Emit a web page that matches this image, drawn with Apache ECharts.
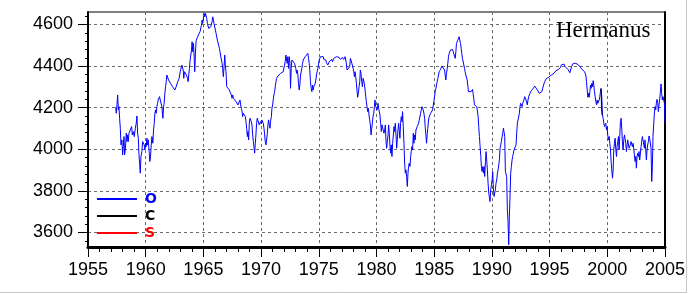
<!DOCTYPE html>
<html><head><meta charset="utf-8">
<script src="https://cdn.jsdelivr.net/npm/echarts@6/dist/echarts.min.js"></script>
<style>html,body{margin:0;padding:0;background:#fff}#c{width:688px;height:294px}</style>
</head><body><div id="c"></div>
<script>
// Hermanus monthly values, [year, value]
const obs1957 = [[1957.40,4202],[1957.45,4173],[1957.51,4213],[1957.57,4261],[1957.63,4189],[1957.68,4205],[1957.74,4149],[1957.80,4101],[1957.86,4021],[1957.94,4045],[1958.00,3973],[1958.06,4013],[1958.12,4061],[1958.17,3973],[1958.23,3997],[1958.32,4077],[1958.38,4037],[1958.43,4069],[1958.49,4037],[1958.55,4077],[1958.63,4085],[1958.72,4077],[1958.78,4109],[1958.84,4069],[1958.92,4085],[1959.01,4061],[1959.10,4101],[1959.18,4125],[1959.24,4160],[1959.30,4077],[1959.36,4053],[1959.41,3981],[1959.47,3933],[1959.53,3885],[1959.59,3965],[1959.67,3989],[1959.73,4037],[1959.82,4045],[1959.87,4021],[1959.93,3997],[1959.99,4029],[1960.05,4013],[1960.10,4053],[1960.16,4021],[1960.22,4045],[1960.31,3981],[1960.36,3941],[1960.42,3965],[1960.48,4021],[1960.54,4061],[1960.62,4029],[1960.68,4093],[1960.74,4125],[1960.80,4173],[1960.85,4189],[1960.91,4173],[1960.97,4205],[1961.03,4221],[1961.08,4237],[1961.14,4245],[1961.20,4253],[1961.26,4237],[1961.34,4245],[1961.40,4205],[1961.49,4149],[1961.55,4205],[1961.60,4221],[1961.66,4269],[1961.72,4301],[1961.78,4325],[1961.83,4357],[1961.89,4349],[1961.98,4333],[1962.04,4341],[1962.09,4325],[1962.15,4317],[1962.24,4325],[1962.32,4301],[1962.38,4293],[1962.44,4309],[1962.53,4285],[1962.58,4293],[1962.64,4301],[1962.70,4309],[1962.78,4325],[1962.84,4333],[1962.90,4341],[1962.99,4373],[1963.04,4381],[1963.13,4405],[1963.19,4410],[1963.25,4381],[1963.30,4341]];
const obs1963 = [[1963.36,4373],[1963.45,4365],[1963.53,4357],[1963.62,4341],[1963.68,4325],[1963.73,4357],[1963.79,4389],[1963.85,4429],[1963.91,4437],[1963.97,4477],[1964.02,4517],[1964.08,4469],[1964.14,4509],[1964.20,4445],[1964.25,4373],[1964.31,4461],[1964.37,4522],[1964.43,4528],[1964.48,4538],[1964.54,4544],[1964.60,4554],[1964.66,4557],[1964.71,4565],[1964.77,4570],[1964.83,4597],[1964.89,4621],[1964.94,4605],[1965.00,4629],[1965.06,4653],[1965.12,4637],[1965.18,4653],[1965.23,4658],[1965.29,4629],[1965.35,4605],[1965.41,4597],[1965.46,4581],[1965.52,4576],[1965.58,4581],[1965.64,4589],[1965.69,4597],[1965.75,4613],[1965.81,4637],[1965.87,4621],[1965.92,4605],[1965.98,4597],[1966.04,4573],[1966.10,4557],[1966.16,4549],[1966.21,4525],[1966.27,4533],[1966.33,4517],[1966.39,4485],[1966.44,4469],[1966.50,4461],[1966.56,4429],[1966.62,4413],[1966.67,4389],[1966.73,4349],[1966.79,4397],[1966.85,4453],[1966.90,4405],[1966.96,4373],[1967.02,4301],[1967.08,4309],[1967.14,4293],[1967.19,4301],[1967.25,4285],[1967.31,4277],[1967.37,4285],[1967.42,4261],[1967.48,4245],[1967.54,4261],[1967.60,4245],[1967.65,4253],[1967.71,4237],[1967.77,4245],[1967.83,4229],[1967.88,4221],[1967.94,4229],[1968.00,4213],[1968.06,4221],[1968.12,4205],[1968.17,4237],[1968.23,4213],[1968.29,4197],[1968.35,4181],[1968.40,4157],[1968.46,4173],[1968.52,4165],[1968.58,4170],[1968.63,4157],[1968.69,4133],[1968.75,4101],[1968.81,4061],[1968.86,4085],[1968.92,4045],[1968.98,4125],[1969.04,4149],[1969.10,4157],[1969.15,4133],[1969.21,4117],[1969.27,4069],[1969.33,4037],[1969.38,4013],[1969.44,3981],[1969.50,4029],[1969.56,4077],[1969.61,4125],[1969.67,4149],[1969.73,4157],[1969.79,4141],[1969.84,4117],[1969.90,4125],[1969.96,4133],[1970.02,4122],[1970.07,4141],[1970.13,4149],[1970.19,4125],[1970.25,4101],[1970.31,4069],[1970.36,4037],[1970.42,4021],[1970.48,4045],[1970.54,4077],[1970.59,4117],[1970.65,4141],[1970.71,4117],[1970.77,4101],[1970.82,4133],[1970.89,4157],[1970.94,4197],[1971.00,4213],[1971.05,4237],[1971.11,4261],[1971.17,4277],[1971.23,4301],[1971.29,4325],[1971.34,4341],[1971.40,4349],[1971.46,4352],[1971.52,4357],[1971.57,4349],[1971.63,4357],[1971.69,4365]];
const obs1971 = [[1971.75,4373],[1971.83,4365],[1971.92,4373],[1971.98,4365],[1972.03,4405],[1972.09,4421],[1972.15,4453],[1972.21,4461],[1972.26,4413],[1972.32,4445],[1972.38,4389],[1972.44,4445],[1972.50,4413],[1972.55,4293],[1972.61,4389],[1972.67,4429],[1972.73,4437],[1972.78,4429],[1972.84,4421],[1972.90,4413],[1972.96,4405],[1973.01,4389],[1973.07,4365],[1973.13,4381],[1973.19,4357],[1973.24,4317],[1973.30,4285],[1973.36,4309],[1973.42,4357],[1973.48,4365],[1973.53,4389],[1973.59,4413],[1973.65,4429],[1973.71,4432],[1973.76,4437],[1973.82,4445],[1973.88,4448],[1973.94,4453],[1973.99,4453],[1974.05,4461],[1974.11,4437],[1974.17,4413],[1974.22,4381],[1974.28,4325],[1974.34,4293],[1974.40,4277],[1974.46,4309],[1974.51,4285],[1974.57,4301],[1974.63,4293],[1974.69,4317],[1974.74,4333],[1974.80,4357],[1974.86,4373],[1974.92,4389],[1974.97,4405],[1975.03,4429],[1975.09,4437],[1975.15,4445],[1975.20,4448],[1975.26,4440],[1975.32,4451],[1975.38,4445],[1975.43,4432],[1975.49,4429],[1975.55,4426],[1975.61,4429],[1975.67,4416],[1975.72,4410],[1975.78,4405],[1975.84,4413],[1975.90,4421],[1975.95,4426],[1976.01,4429],[1976.07,4429],[1976.13,4432],[1976.18,4421],[1976.24,4429],[1976.30,4437],[1976.36,4434],[1976.42,4440],[1976.47,4440],[1976.53,4445],[1976.59,4445],[1976.65,4445],[1976.70,4445],[1976.76,4442],[1976.82,4437],[1976.88,4432],[1976.93,4429],[1976.99,4437],[1977.05,4442],[1977.11,4437],[1977.16,4432],[1977.22,4440],[1977.28,4445],[1977.34,4429],[1977.39,4410],[1977.45,4381],[1977.51,4373],[1977.57,4389],[1977.62,4381],[1977.68,4397],[1977.74,4437],[1977.80,4445],[1977.86,4429],[1977.91,4405],[1977.97,4389],[1978.03,4373],[1978.09,4349],[1978.14,4373],[1978.20,4349],[1978.26,4317],[1978.32,4277],[1978.37,4250],[1978.43,4269],[1978.49,4301],[1978.55,4325],[1978.60,4381],[1978.66,4365],[1978.72,4325],[1978.78,4301],[1978.84,4341],[1978.89,4349],[1978.95,4317],[1979.01,4285],[1979.07,4253],[1979.12,4229],[1979.18,4205],[1979.24,4181],[1979.30,4197],[1979.35,4165],[1979.41,4141],[1979.47,4117],[1979.53,4069],[1979.59,4101],[1979.64,4125],[1979.70,4157],[1979.76,4173],[1979.82,4205],[1979.87,4237],[1979.93,4205],[1979.99,4213],[1980.05,4189],[1980.10,4197]];
const obs1980 = [[1980.13,4221],[1980.19,4197],[1980.25,4189],[1980.30,4165],[1980.36,4125],[1980.42,4085],[1980.48,4117],[1980.54,4109],[1980.59,4117],[1980.65,4077],[1980.71,4093],[1980.77,4117],[1980.82,4045],[1980.88,4005],[1980.94,4037],[1981.00,4069],[1981.05,4117],[1981.11,4077],[1981.17,4013],[1981.23,3981],[1981.28,4021],[1981.34,3965],[1981.40,4029],[1981.46,4069],[1981.52,4109],[1981.57,4085],[1981.63,4125],[1981.69,4069],[1981.75,4005],[1981.80,4045],[1981.86,4093],[1981.92,4125],[1981.98,4085],[1982.03,4053],[1982.09,4125],[1982.15,4157],[1982.21,4133],[1982.26,4181],[1982.32,4109],[1982.38,4029],[1982.44,3933],[1982.50,3885],[1982.55,3901],[1982.61,3869],[1982.67,3821],[1982.73,3885],[1982.78,3917],[1982.84,3933],[1982.90,3917],[1982.96,3965],[1983.01,3989],[1983.07,4013],[1983.13,3997],[1983.19,4077],[1983.24,4029],[1983.30,4069],[1983.36,4045],[1983.42,4093],[1983.48,4101],[1983.53,4109],[1983.59,4117],[1983.65,4125],[1983.71,4141],[1983.76,4149],[1983.82,4173],[1983.88,4189],[1983.94,4205],[1983.99,4213],[1984.05,4189],[1984.11,4173],[1984.17,4149],[1984.22,4109],[1984.28,4069],[1984.34,4029],[1984.40,4077],[1984.45,4101],[1984.51,4141],[1984.57,4157],[1984.63,4165],[1984.69,4173],[1984.74,4170],[1984.80,4181],[1984.86,4189],[1984.92,4197],[1984.97,4229],[1985.03,4253],[1985.09,4277],[1985.15,4293],[1985.20,4309],[1985.26,4325],[1985.32,4341],[1985.38,4357],[1985.43,4373],[1985.49,4378],[1985.55,4384],[1985.61,4389],[1985.67,4400],[1985.72,4405],[1985.78,4397],[1985.84,4397],[1985.90,4381],[1985.95,4357],[1986.01,4333],[1986.07,4365],[1986.13,4389],[1986.18,4413],[1986.24,4445],[1986.30,4461],[1986.36,4469],[1986.41,4477],[1986.47,4480],[1986.53,4477],[1986.59,4480],[1986.65,4469],[1986.70,4477],[1986.76,4461],[1986.82,4437],[1986.88,4469],[1986.93,4509],[1986.99,4517],[1987.05,4525],[1987.11,4533],[1987.16,4541],[1987.22,4525],[1987.28,4509],[1987.34,4485],[1987.39,4461],[1987.45,4437],[1987.51,4429],[1987.57,4405],[1987.63,4389],[1987.68,4373],[1987.74,4357],[1987.80,4349],[1987.86,4333],[1987.91,4325],[1987.97,4277],[1988.03,4285],[1988.09,4277],[1988.14,4285],[1988.20,4277],[1988.26,4285],[1988.32,4288],[1988.37,4269],[1988.43,4245],[1988.49,4213]];
const obs1988 = [[1988.52,4213],[1988.60,4213],[1988.69,4205],[1988.75,4197],[1988.81,4157],[1988.86,4109],[1988.92,4061],[1988.98,4013],[1989.04,3965],[1989.09,3917],[1989.15,3893],[1989.21,3917],[1989.27,3885],[1989.32,3917],[1989.38,3869],[1989.44,3941],[1989.50,3989],[1989.55,3949],[1989.61,3901],[1989.67,3837],[1989.73,3789],[1989.79,3797],[1989.84,3749],[1989.90,3805],[1989.96,3829],[1990.02,3853],[1990.07,3893],[1990.13,3813],[1990.19,3773],[1990.25,3765],[1990.30,3805],[1990.36,3837],[1990.42,3853],[1990.48,3885],[1990.54,3901],[1990.59,3893],[1990.65,3949],[1990.71,4005],[1990.77,4021],[1990.82,4037],[1990.88,4029],[1990.94,4077],[1991.00,4101],[1991.05,4085],[1991.11,4061],[1991.17,3893],[1991.23,3901],[1991.28,3869],[1991.34,3709],[1991.40,3653],[1991.46,3541],[1991.51,3669],[1991.57,3773],[1991.63,3885],[1991.69,3917],[1991.75,3949],[1991.80,3965],[1991.86,3981],[1991.92,3997],[1991.98,4005],[1992.03,3989],[1992.09,4021],[1992.15,4077],[1992.21,4125],[1992.26,4125],[1992.32,4133],[1992.38,4173],[1992.44,4205],[1992.49,4221],[1992.55,4213],[1992.61,4205],[1992.67,4221],[1992.73,4221],[1992.78,4237],[1992.84,4253],[1992.90,4245],[1992.96,4237],[1993.01,4229],[1993.07,4213],[1993.13,4237],[1993.19,4253],[1993.24,4261],[1993.30,4269],[1993.36,4277],[1993.42,4282],[1993.47,4285],[1993.53,4288],[1993.59,4293],[1993.65,4298],[1993.71,4304],[1993.76,4309],[1993.82,4304],[1993.88,4298],[1993.94,4285],[1993.99,4277],[1994.05,4277],[1994.11,4269],[1994.17,4261],[1994.22,4266],[1994.28,4272],[1994.34,4277],[1994.40,4293],[1994.45,4301],[1994.51,4314],[1994.57,4325],[1994.63,4330],[1994.69,4333],[1994.74,4341],[1994.80,4333],[1994.86,4336],[1994.92,4346],[1994.97,4352],[1995.03,4341],[1995.09,4349],[1995.15,4357],[1995.20,4362],[1995.26,4365],[1995.32,4357],[1995.38,4365],[1995.43,4362],[1995.49,4368],[1995.55,4378],[1995.61,4373],[1995.67,4381],[1995.72,4378],[1995.78,4384],[1995.84,4389],[1995.90,4384],[1995.95,4394],[1996.01,4405],[1996.07,4410],[1996.13,4410],[1996.18,4413],[1996.24,4410],[1996.30,4405],[1996.36,4397],[1996.41,4394],[1996.47,4397],[1996.53,4389],[1996.59,4384],[1996.64,4381],[1996.70,4378],[1996.76,4368],[1996.82,4362],[1996.88,4365]];
const obs1997 = [[1996.90,4397],[1996.99,4405],[1997.05,4413],[1997.11,4416],[1997.16,4413],[1997.22,4418],[1997.28,4413],[1997.34,4416],[1997.39,4410],[1997.45,4413],[1997.51,4405],[1997.57,4410],[1997.62,4400],[1997.68,4394],[1997.74,4389],[1997.80,4384],[1997.85,4381],[1997.91,4384],[1997.97,4378],[1998.03,4373],[1998.09,4373],[1998.14,4357],[1998.20,4325],[1998.26,4285],[1998.32,4250],[1998.37,4269],[1998.43,4250],[1998.49,4277],[1998.55,4309],[1998.60,4293],[1998.66,4317],[1998.72,4301],[1998.78,4330],[1998.83,4309],[1998.89,4277],[1998.95,4253],[1999.01,4229],[1999.07,4213],[1999.12,4237],[1999.18,4221],[1999.24,4216],[1999.30,4237],[1999.35,4253],[1999.41,4277],[1999.47,4293],[1999.53,4245],[1999.58,4165],[1999.64,4149],[1999.70,4125],[1999.76,4109],[1999.81,4117],[1999.87,4125],[1999.93,4093],[1999.99,4109],[2000.04,4069],[2000.10,4045],[2000.16,4061],[2000.22,4029],[2000.28,3997],[2000.33,3941],[2000.39,3933],[2000.45,3861],[2000.51,3901],[2000.56,3997],[2000.62,4029],[2000.68,4053],[2000.74,3997],[2000.80,3965],[2000.85,4013],[2000.91,4037],[2000.97,4061],[2001.02,3997],[2001.08,4061],[2001.14,4133],[2001.20,4149],[2001.26,4093],[2001.31,4037],[2001.37,3997],[2001.43,4045],[2001.49,4069],[2001.54,4053],[2001.60,4029],[2001.66,3989],[2001.72,4021],[2001.77,4045],[2001.83,4053],[2001.89,4005],[2001.95,3997],[2002.00,4021],[2002.06,4037],[2002.12,4045],[2002.18,4013],[2002.24,4029],[2002.29,4005],[2002.35,3973],[2002.41,3941],[2002.47,3965],[2002.52,3909],[2002.58,3965],[2002.64,3981],[2002.70,3965],[2002.75,3989],[2002.81,3949],[2002.87,3981],[2002.93,4013],[2002.98,4037],[2003.04,4061],[2003.10,4064],[2003.16,4053],[2003.22,4005],[2003.27,4045],[2003.33,3997],[2003.39,3949],[2003.45,3997],[2003.50,4021],[2003.56,4037],[2003.62,4064],[2003.67,4053],[2003.73,4045],[2003.79,4005],[2003.85,3845],[2003.91,3917],[2003.96,4061],[2004.02,4117],[2004.08,4173],[2004.14,4205],[2004.20,4189],[2004.25,4221],[2004.31,4240],[2004.37,4224],[2004.43,4181],[2004.48,4213],[2004.54,4237],[2004.60,4277],[2004.66,4314],[2004.71,4269],[2004.77,4237],[2004.83,4253],[2004.89,4253],[2004.95,4221],[2005.00,4125]];
const calcC = [[1999.41,4290],[1999.47,4280],[1999.50,4200],[1999.55,4165]];
const calcS = [];
const yMajor = [3600,3800,4000,4200,4400,4600];
const yMinor = [3560,3640,3680,3720,3760,3840,3880,3920,3960,4040,4080,4120,4160,4240,4280,4320,4360,4440,4480,4520,4560,4640];

const obsAll = [].concat(obs1957, obs1963, obs1971, obs1980, obs1988, obs1997);
const FONT = 'Liberation Sans';
const plain = v => String(Math.round(v));
const GRIDLINE = {show:true, lineStyle:{color:'#6a6a6a', width:1, type:[3,3]}};
const chart = echarts.init(document.getElementById('c'), null, {renderer:'canvas'});
chart.setOption({
  animation:false,
  backgroundColor:'#ffffff',
  textStyle:{fontFamily:FONT, fontSize:18, color:'#000'},
  title:{text:'Hermanus', left:556, top:19, padding:0,
    textStyle:{fontFamily:'Liberation Serif', fontSize:23, fontWeight:'normal', color:'#000'}},
  legend:{orient:'vertical', left:97, top:192, padding:0, itemGap:3, itemWidth:40, itemHeight:2, icon:'rect', selectedMode:false,
    textStyle:{fontFamily:'DejaVu Sans', fontWeight:'bold', fontSize:14, lineHeight:14, padding:[0,0,0,3]},
    data:[{name:'O', textStyle:{color:'#0000ff', fontSize:14, fontWeight:'bold', fontFamily:'DejaVu Sans'}},
          {name:'C', textStyle:{color:'#000000', fontSize:14, fontWeight:'bold', fontFamily:'DejaVu Sans'}},
          {name:'S', textStyle:{color:'#ff0000', fontSize:14, fontWeight:'bold', fontFamily:'DejaVu Sans'}}]},
  grid:{left:88, right:21, top:12, bottom:47, show:true, borderColor:'#000', borderWidth:1, containLabel:false},
  xAxis:{type:'value', min:1955, max:2005, interval:5,
    axisLine:{show:true, onZero:false, lineStyle:{color:'#000', width:3}},
    axisTick:{show:true, length:10, lineStyle:{color:'#000', width:1}},
    minorTick:{show:true, splitNumber:5, length:5, lineStyle:{color:'#000', width:1}},
    axisLabel:{margin:14, fontSize:18, fontFamily:FONT, color:'#000', formatter:plain, hideOverlap:false},
    splitLine:GRIDLINE},
  yAxis:[
    {type:'value', min:3530, max:4660, position:'left',
      axisLine:{show:true, onZero:false, lineStyle:{color:'#000', width:2}},
      axisTick:{show:true, length:10, customValues:yMajor, lineStyle:{color:'#000', width:1}},
      axisLabel:{customValues:yMajor, margin:15, fontSize:18, fontFamily:FONT, color:'#000', formatter:plain, hideOverlap:false},
      splitLine:GRIDLINE},
    {type:'value', min:3530, max:4660, position:'left',
      axisLine:{show:false}, axisTick:{show:true, length:3, customValues:yMinor, lineStyle:{color:'#000', width:1}},
      axisLabel:{show:false}, splitLine:{show:false}},
    {type:'value', min:3530, max:4660, position:'right',
      axisLine:{show:true, onZero:false, lineStyle:{color:'#000', width:2}}, axisTick:{show:false},
      axisLabel:{show:false}, splitLine:{show:false}}
  ],
  graphic:[
    {type:'line', shape:{x1:686.5, y1:0, x2:686.5, y2:293}, style:{stroke:'#c8c8c8', lineWidth:1}},
    {type:'line', shape:{x1:0, y1:292.5, x2:687, y2:292.5}, style:{stroke:'#c8c8c8', lineWidth:1}}
  ],
  series:[
    {name:'O', type:'line', data:obsAll, symbol:'none', showSymbol:false, clip:true,
      lineStyle:{color:'#0000ff', width:1}, itemStyle:{color:'#0000ff'}},
    {name:'C', type:'line', data:calcC, symbol:'none', showSymbol:false, clip:true,
      lineStyle:{color:'#000000', width:1}, itemStyle:{color:'#000000'}},
    {name:'S', type:'line', data:calcS, symbol:'none', showSymbol:false,
      lineStyle:{color:'#ff0000', width:1}, itemStyle:{color:'#ff0000'}}
  ]
});
</script>
</body></html>
